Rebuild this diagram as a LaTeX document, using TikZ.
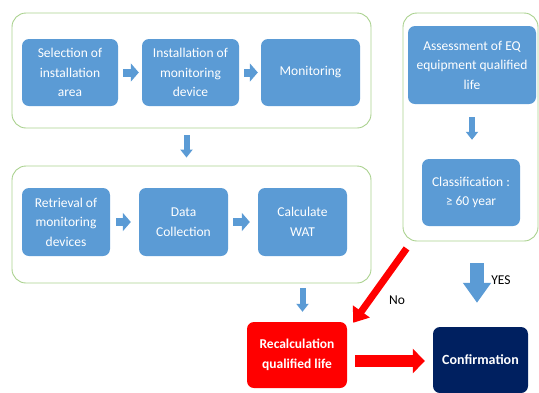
\documentclass[tikz,border=0pt]{standalone}
\usepackage{fontspec}
\setmainfont{Carlito}
\usetikzlibrary{arrows.meta,calc}
\definecolor{boxblue}{HTML}{5B9BD5}
\definecolor{grpgreen}{HTML}{A9D18E}
\definecolor{navy}{HTML}{002060}
\definecolor{redc}{HTML}{FF0000}
\tikzset{
  group/.style={draw=grpgreen, line width=0.9pt, rounded corners=14pt, inner sep=0pt},
  bbox/.style={fill=boxblue, rounded corners=7pt, text=white, align=center, inner sep=2pt,
    font=\fontsize{13.5}{19.5}\selectfont},
  smallarrow/.style={draw=boxblue, line width=8pt, -{Triangle[width=18pt,length=8pt]}},
  downarrow/.style={draw=boxblue, line width=6pt, -{Triangle[width=12pt,length=8pt]}},
  bigdown/.style={draw=boxblue, line width=14pt, -{Triangle[width=27pt,length=20pt]}},
  redarrow/.style={draw=redc, -{Triangle[width=#1]}},
  lbl/.style={font=\fontsize{13.5}{16}\selectfont, text=black, inner sep=0pt}
}
\begin{document}
\begin{tikzpicture}[x=1pt,y=-1pt]
\useasboundingbox (0,0) rectangle (539,392);
% groups
\node[group, minimum width=359pt, minimum height=115pt] (G1) at (191.5,70.5) {};
\node[group, minimum width=359pt, minimum height=117pt] (G2) at (191.5,224.5) {};
\node[group, minimum width=135pt, minimum height=228pt] (G3) at (470.5,127) {};
% row 1
\node[bbox, minimum width=96pt, minimum height=67pt] (b1) at (70,72.5) {Selection of\\installation\\area};
\node[bbox, minimum width=97pt, minimum height=67pt] (b2) at (190.5,72.5) {Installation of\\monitoring\\device};
\node[bbox, minimum width=99pt, minimum height=67pt] (b3) at (310.5,72.5) {Monitoring};
% row 2
\node[bbox, minimum width=88pt, minimum height=68pt] (c1) at (66,222) {Retrieval of\\monitoring\\devices};
\node[bbox, minimum width=89pt, minimum height=68pt] (c2) at (183.5,222) {Data\\Collection};
\node[bbox, minimum width=89pt, minimum height=68pt] (c3) at (302.5,222) {Calculate\\WAT};
% right column
\node[bbox, minimum width=128pt, minimum height=78pt] (A) at (472,65) {Assessment of EQ\\equipment qualified\\life};
\node[bbox, minimum width=98pt, minimum height=67pt] (B) at (471,192.5) {Classification :\\≥ 60 year};
% bottom
\node[bbox, fill=redc, minimum width=100pt, minimum height=66pt, font=\bfseries\fontsize{13.5}{19.5}\selectfont] (R) at (297,355) {Recalculation\\qualified life};
\node[bbox, fill=navy, minimum width=95pt, minimum height=66pt, font=\bfseries\fontsize{14}{19.5}\selectfont] (C) at (480.5,360) {Confirmation};
% arrows
\draw[smallarrow, shorten <=5pt, shorten >=3pt] (b1) -- (b2);
\draw[smallarrow, shorten <=5pt, shorten >=3pt] (b2) -- (b3);
\draw[smallarrow, shorten <=6pt, shorten >=8pt] (c1) -- (c2);
\draw[smallarrow, shorten <=5pt, shorten >=8pt] (c2) -- (c3);
\draw[downarrow, shorten <=7pt, shorten >=8pt] ([xshift=-5pt]G1.south) -- ([xshift=-5pt]G2.north);
\draw[downarrow, shorten <=5pt, shorten >=10pt] (G2.south -| c3) -- (c3 |- R.north);
\draw[downarrow, shorten <=13pt, shorten >=19pt] (A.south) -- (A.south |- B.north);
\draw[bigdown, shorten <=22pt, shorten >=24pt] ([xshift=6.5pt]G3.south) -- ([xshift=6.5pt]G3.south |- C.north);
\draw[redc, line width=7pt, -{Triangle[width=20pt,length=14pt]}] ([xshift=4pt,yshift=-7pt]G3.south west) -- ([xshift=6pt,yshift=-1pt]R.north east);
\draw[redc, line width=12pt, -{Triangle[width=24pt,length=12pt]}, shorten <=8pt, shorten >=8pt] ([yshift=-6pt]R.east) -- ([yshift=-6pt]R.east -| C.west);
% labels
\node[lbl] (no) at (397,300) {No};
\node[lbl] (yes) at (501,280) {YES};
\end{tikzpicture}
\end{document}
